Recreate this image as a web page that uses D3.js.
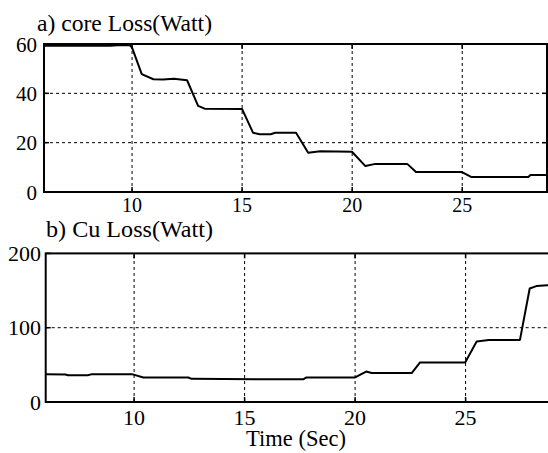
<!DOCTYPE html>
<html><head><meta charset="utf-8">
<script src="https://cdn.jsdelivr.net/npm/d3@7"></script>
<style>html,body{margin:0;padding:0;background:#fff;}text{font-family:'Liberation Serif','DejaVu Serif',serif;}</style>
</head><body>
<script>
const coreT = [6, 9.0, 9.5, 9.9, 10.0, 10.44, 10.97, 11.4, 11.9, 12.4, 12.5, 13.0, 13.3, 15.0, 15.5, 15.8, 16.3, 16.5, 17.45, 18.0, 18.55, 19.99, 20.6, 21.05, 22.5, 22.9, 24.99, 25.4, 28.0, 28.1, 28.85];
const coreV = [59.3, 59.3, 59.6, 59.5, 58.5, 47.8, 45.7, 45.6, 45.9, 45.4, 45.3, 34.9, 33.8, 33.6, 24.0, 23.4, 23.4, 24.0, 24.0, 15.9, 16.5, 16.3, 10.5, 11.4, 11.4, 8.1, 8.1, 6.1, 6.1, 6.9, 6.9];
const cuT = [6, 6.9, 7.0, 7.9, 8.1, 9.9, 10.42, 12.45, 12.6, 16.2, 17.65, 17.8, 20.0, 20.5, 20.75, 22.56, 22.94, 24.98, 25.5, 26.05, 27.46, 27.9, 28.2, 28.7, 29.0];
const cuV = [37.5, 37, 36, 36, 37.5, 37.5, 33, 33, 31.2, 30.5, 30.5, 33, 33, 41, 39, 39, 53.3, 53.3, 81.4, 83.6, 83.6, 152.8, 156, 157, 157];
const xTicks = [10, 15, 20, 25];
const coreYTicks = [0, 20, 40, 60];
const cuYTicks = [0, 100, 200];
const titleA = "a) core Loss(Watt)";
const titleB = "b) Cu Loss(Watt)";
const xLabel = "Time (Sec)";

const W = 548, H = 453;
const FONT = "Liberation Serif, DejaVu Serif, serif";
const svg = d3.select("body").append("svg").attr("width", W).attr("height", H);

function panel(opt) {
  const x = d3.scaleLinear().domain(opt.xDom).range(opt.xRange);
  const y = d3.scaleLinear().domain(opt.yDom).range(opt.yRange);
  const g = svg.append("g");
  const [x0, x1] = opt.xRange, [yb, yt] = opt.yRange;
  g.selectAll(".vg").data(opt.xTicks).enter().append("line")
    .attr("x1", d => x(d)).attr("x2", d => x(d)).attr("y1", yb).attr("y2", yt)
    .attr("stroke", "#000").attr("stroke-width", 1).attr("stroke-dasharray", "3,3");
  g.selectAll(".hg").data(opt.yTicks.filter(d => d !== opt.yDom[0] && d !== opt.yDom[1])).enter().append("line")
    .attr("x1", x0).attr("x2", x1).attr("y1", d => y(d)).attr("y2", d => y(d))
    .attr("stroke", "#000").attr("stroke-width", 1).attr("stroke-dasharray", "3,3");
  const tl = 5;
  opt.xTicks.forEach(d => {
    g.append("line").attr("x1", x(d)).attr("x2", x(d)).attr("y1", yb).attr("y2", yb - tl).attr("stroke", "#000").attr("stroke-width", 1.5);
    g.append("line").attr("x1", x(d)).attr("x2", x(d)).attr("y1", yt).attr("y2", yt + tl).attr("stroke", "#000").attr("stroke-width", 1.5);
  });
  opt.yTicks.forEach(d => {
    g.append("line").attr("x1", x0).attr("x2", x0 + tl).attr("y1", y(d)).attr("y2", y(d)).attr("stroke", "#000").attr("stroke-width", 1.5);
    g.append("line").attr("x1", x1).attr("x2", x1 - tl).attr("y1", y(d)).attr("y2", y(d)).attr("stroke", "#000").attr("stroke-width", 1.5);
  });
  g.append("rect").attr("x", x0).attr("y", yt).attr("width", x1 - x0).attr("height", yb - yt)
    .attr("fill", "none").attr("stroke", "#000").attr("stroke-width", 2);
  const pts = opt.t.map((t, i) => [t, opt.v[i]]);
  g.append("path").datum(pts)
    .attr("d", d3.line().x(d => x(d[0])).y(d => y(d[1])))
    .attr("fill", "none").attr("stroke", "#000").attr("stroke-width", 2).attr("stroke-linejoin", "round");
  g.selectAll(".xl").data(opt.xTicks).enter().append("text")
    .attr("x", d => x(d)).attr("y", yb + opt.xLabDy).attr("text-anchor", "middle")
    .attr("font-family", FONT).attr("font-size", opt.xFont).text(d => d);
  g.selectAll(".yl").data(opt.yTicks).enter().append("text")
    .attr("x", opt.yLabX).attr("y", d => y(d) + 7.5).attr("text-anchor", "end")
    .attr("font-family", FONT).attr("font-size", opt.yFont).text(d => d);
  g.append("text").attr("x", opt.titleX).attr("y", opt.titleY)
    .attr("font-family", FONT).attr("font-size", opt.titleFont)
    .attr("textLength", opt.titleLen).attr("lengthAdjust", "spacingAndGlyphs").text(opt.title);
}

panel({xDom: [6, 28.85], xRange: [44, 547], yDom: [0, 60], yRange: [192, 44],
  t: coreT, v: coreV, xTicks: xTicks, yTicks: coreYTicks,
  xLabDy: 20, xFont: 20, yLabX: 37, yFont: 21, title: titleA, titleX: 37, titleY: 31, titleFont: 23.5, titleLen: 175});
panel({xDom: [6, 29], xRange: [45.7, 554], yDom: [0, 200], yRange: [402, 253.4],
  t: cuT, v: cuV, xTicks: xTicks, yTicks: cuYTicks,
  xLabDy: 23, xFont: 22, yLabX: 41, yFont: 22, title: titleB, titleX: 46, titleY: 237, titleFont: 22.5, titleLen: 167});

svg.append("text").attr("x", 296).attr("y", 446).attr("text-anchor", "middle")
  .attr("font-family", FONT).attr("font-size", 22.5).text(xLabel);
</script>
</body></html>
